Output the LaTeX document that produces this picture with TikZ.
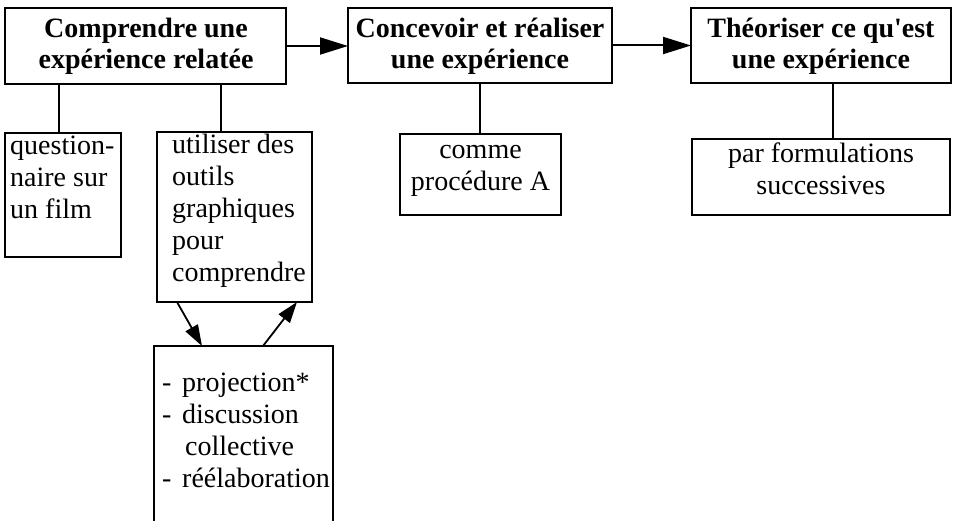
\documentclass[tikz,border=0pt]{standalone}
\usepackage{fontspec}
\setmainfont{Liberation Serif}
\usetikzlibrary{arrows.meta}
\begin{document}
\begin{tikzpicture}[x=1pt,y=-1pt,
  box/.style={draw, line width=1.4pt, inner sep=0pt, outer sep=0pt},
  ln/.style={line width=1.4pt},
  arr/.style={line width=2pt, -{Triangle[length=28pt,width=17pt]}},
  darr/.style={line width=1.8pt, -{Triangle[length=21pt,width=14pt]}},
  title/.style={font=\bfseries\fontsize{28}{31}\selectfont, align=center, inner sep=0pt, anchor=north},
  txt/.style={font=\fontsize{28}{32}\selectfont, inner sep=0pt},
]
\useasboundingbox (0,0) rectangle (957,521);
\clip (0,0) rectangle (957,521);
% main boxes
\node[box, minimum width=281pt, minimum height=76pt] (b1) at (145.5,46) {};
\node[box, minimum width=264pt, minimum height=75pt] (b2) at (480,45.5) {};
\node[box, minimum width=260pt, minimum height=75pt] (b3) at (821,45.5) {};
% sub boxes
\node[box, minimum width=116pt, minimum height=124pt] (bA) at (63,195) {};
\node[box, minimum width=155pt, minimum height=170pt] (bB) at (234.5,217) {};
\node[box, minimum width=161pt, minimum height=81pt] (bC) at (480.5,174.5) {};
\node[box, minimum width=258pt, minimum height=76pt] (bD) at (821,177) {};
\node[box, minimum width=179pt, minimum height=214pt] (bE) at (243.5,453) {};
% texts
\node[title] (t1) at (146,18) {Comprendre une\\expérience relatée};
\node[title] (t2) at (480,18) {Concevoir et réaliser\\une expérience};
\node[title] (t3) at (821,18) {Théoriser ce qu\textquotesingle est\\une expérience};
\node[txt, align=left, anchor=north west] (tA) at (10,136) {question-\\naire sur\\un film};
\node[txt, align=left, anchor=north west] (tB) at (172,134) {utiliser des\\outils\\graphiques\\pour\\comprendre};
\node[txt, align=center, anchor=north] (tC) at (480.5,145.5) {comme\\procédure A};
\node[txt, align=center, anchor=north] (tD) at (821,143) {par formulations\\successives};
\node[txt, align=left, anchor=north west] (tE) at (162,373) {\makebox[20pt][l]{-}projection*\\\makebox[20pt][l]{-}discussion\\\hspace*{23pt}collective\\\makebox[20pt][l]{-}réélaboration};
% helper x positions
\coordinate (xa) at (59,0);
\coordinate (xb) at (221,0);
\coordinate (xd) at (833,0);
\coordinate (d1) at (177,0);
\coordinate (d2) at (202,0);
\coordinate (u1) at (263,0);
\coordinate (u2) at (297,0);
% connectors
\draw[arr] (b1.east) -- (b1.east -| b2.west);
\draw[arr] (b2.east) -- (b2.east -| b3.west);
\draw[ln] (b1.south -| xa) -- (bA.north -| xa);
\draw[ln] (b1.south -| xb) -- (bB.north -| xb);
\draw[ln] (b2.south) -- (bC.north -| b2.south);
\draw[ln] (b3.south -| xd) -- (bD.north -| xd);
\draw[darr] (bB.south -| d1) -- (bE.north -| d2);
\draw[darr] (bE.north -| u1) -- (bB.south -| u2);
\end{tikzpicture}
\end{document}
